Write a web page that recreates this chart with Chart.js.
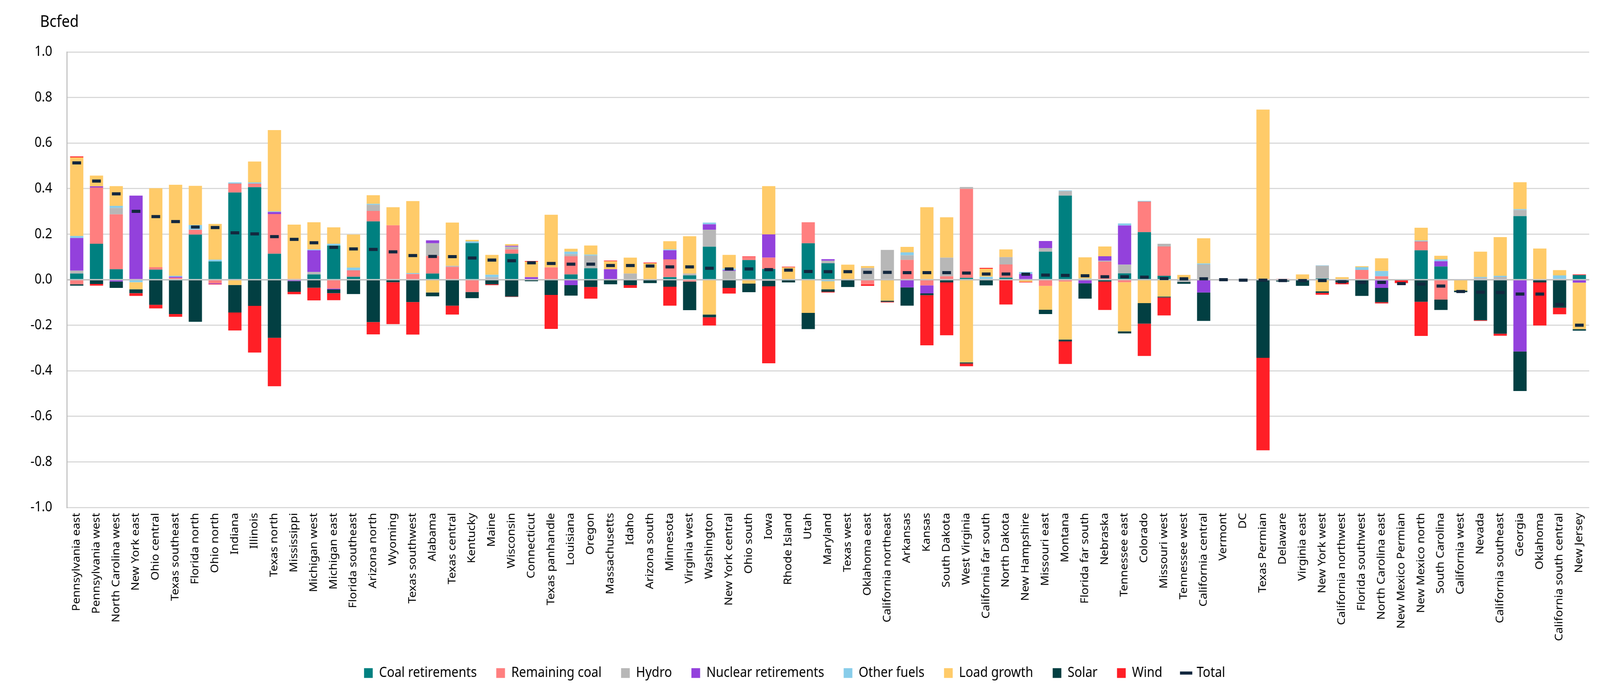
<!DOCTYPE html>
<html>
<head>
<meta charset="utf-8">
<script src="https://cdn.jsdelivr.net/npm/chart.js@4.4.1/dist/chart.umd.min.js"></script>
<style>
html, body { margin: 0; padding: 0; background: #fff; overflow: hidden; }
canvas { display: block; }
</style>
</head>
<body>
<canvas id="chart" width="4598" height="1792"></canvas>
<script>
const categories = [
  'Pennsylvania east', 'Pennsylvania west', 'North Carolina west', 'New York east', 'Ohio central',
  'Texas southeast', 'Florida north', 'Ohio north', 'Indiana', 'Illinois',
  'Texas north', 'Mississippi', 'Michigan west', 'Michigan east', 'Florida southeast',
  'Arizona north', 'Wyoming', 'Texas southwest', 'Alabama', 'Texas central',
  'Kentucky', 'Maine', 'Wisconsin', 'Connecticut', 'Texas panhandle',
  'Louisiana', 'Oregon', 'Massachusetts', 'Idaho', 'Arizona south',
  'Minnesota', 'Virginia west', 'Washington', 'New York central', 'Ohio south',
  'Iowa', 'Rhode Island', 'Utah', 'Maryland', 'Texas west',
  'Oklahoma east', 'California northeast', 'Arkansas', 'Kansas', 'South Dakota',
  'West Virginia', 'California far south', 'North Dakota', 'New Hampshire', 'Missouri east',
  'Montana', 'Florida far south', 'Nebraska', 'Tennessee east', 'Colorado',
  'Missouri west', 'Tennessee west', 'California central', 'Vermont', 'DC',
  'Texas Permian', 'Delaware', 'Virginia east', 'New York west', 'California northwest',
  'Florida southwest', 'North Carolina east', 'New Mexico Permian', 'New Mexico north', 'South Carolina',
  'California west', 'Nevada', 'California southeast', 'Georgia', 'Oklahoma',
  'California south central', 'New Jersey'
];

const coalRetirements = [
  0.027, 0.158, 0.046, 0, 0.044, 0, 0.198, 0.080, 0.383, 0.406,
  0.114, 0, 0.023, 0.150, 0.013, 0.256, 0, 0, 0.027, 0,
  0.161, 0, 0.114, 0, 0, 0.023, 0.050, 0, 0, 0,
  0.011, 0.019, 0.145, 0, 0.086, 0.047, 0, 0.160, 0.072, 0,
  0, 0, 0, 0, 0, 0.008, 0, 0.009, 0, 0.123,
  0.369, 0, 0, 0.028, 0.209, 0.017, 0, 0, 0, 0,
  0, 0, 0, 0.005, 0, 0, 0, 0, 0.129, 0.058,
  0, 0, 0, 0.279, 0, 0, 0.020
];
const remainingCoal = [
  -0.020, 0.247, 0.241, 0, 0.011, 0.008, 0.021, -0.016, 0.039, 0.016,
  0.174, 0.004, 0, -0.039, 0.028, 0.046, 0.239, 0.025, 0.077, 0.056,
  -0.054, 0, 0.019, 0, 0.054, 0.080, 0, 0, 0, 0,
  0.078, -0.008, 0, 0, 0.013, 0.050, 0, 0.092, 0, 0,
  -0.020, 0, 0.087, -0.025, 0.015, 0.391, 0, 0.058, 0, -0.027,
  -0.008, 0, 0.079, -0.011, 0.134, 0.129, 0, 0, -0.003, 0,
  0, 0.004, 0, 0, 0, 0.043, 0.015, 0, 0.039, -0.087,
  0, 0, 0, 0, 0, 0, 0
];
const hydro = [
  0.013, 0, 0.028, 0, 0, 0, 0, 0, 0, 0,
  0, 0, 0.011, 0, 0, 0.027, 0, 0, 0.056, 0.005,
  0, 0.011, 0.012, 0, 0, 0.009, 0.056, 0, 0.027, 0,
  0, 0.008, 0.074, 0.038, 0, -0.005, 0, 0, 0.011, 0,
  0.051, 0.131, 0.020, 0, 0.082, 0.008, 0, 0.032, 0, 0.016,
  0.020, 0, 0.004, 0.038, 0, 0.012, -0.010, 0.067, 0, -0.004,
  0, -0.004, 0, 0.056, 0, 0, 0, 0, 0, 0,
  0, 0.008, 0.012, 0.027, 0, 0.004, 0
];
const nuclearRetirements = [
  0.143, 0.005, -0.008, 0.369, 0, 0.005, 0, -0.003, 0, 0,
  0.009, -0.006, 0.095, -0.004, 0, 0, 0, 0, 0.013, 0,
  0, 0, 0.004, 0.011, 0, -0.024, 0, 0.046, 0, 0,
  0.040, 0, 0.024, 0.004, 0, 0.102, 0, 0, 0.007, 0,
  0, 0, -0.034, -0.035, 0, 0, 0, 0, 0.025, 0.031,
  0, -0.016, 0.020, 0.172, 0, 0, 0, -0.056, 0, 0,
  0, 0, 0, 0, 0, 0, -0.036, 0, 0, 0.023,
  0, 0, 0, -0.315, 0, 0, -0.013
];
const otherFuels = [
  0.009, 0, 0.009, -0.011, 0, 0.004, 0.021, 0.008, 0.005, 0.005,
  0.003, 0, 0.004, 0.008, 0.012, 0.004, 0, 0.004, 0, 0,
  0.007, 0.011, 0, 0, 0, 0.011, 0.004, 0, 0, 0,
  0.004, 0, 0.008, 0.007, 0, 0, 0, 0, -0.007, 0,
  0, 0, 0.013, 0, 0, 0, 0.013, 0, 0.009, 0,
  0.003, 0.005, 0, 0.009, 0.003, 0, 0, 0.004, 0, 0,
  0, 0, 0, 0.002, 0, 0.012, 0.023, 0, 0.004, 0.008,
  0, 0.004, 0.005, 0.004, 0, 0.015, 0
];
const loadGrowth = [
  0.345, 0.047, 0.087, -0.031, 0.347, 0.400, 0.172, 0.157, -0.023, 0.092,
  0.357, 0.238, 0.119, 0.072, 0.145, 0.038, 0.079, 0.316, -0.056, 0.190,
  0.007, 0.087, 0.007, 0.068, 0.231, 0.013, 0.040, 0.035, 0.070, 0.072,
  0.036, 0.164, -0.153, 0.060, -0.017, 0.212, 0.054, -0.146, -0.035, 0.066,
  0.009, -0.092, 0.024, 0.318, 0.177, -0.363, 0.035, 0.034, -0.009, -0.105,
  -0.255, 0.093, 0.043, -0.216, -0.103, -0.074, 0.021, 0.111, 0, 0,
  0.747, 0, 0.023, -0.051, 0.011, 0.004, 0.056, 0, 0.056, 0.016,
  -0.048, 0.111, 0.170, 0.118, 0.137, 0.023, -0.204
];
const solar = [
  -0.006, -0.019, -0.028, -0.017, -0.110, -0.151, -0.185, 0, -0.121, -0.115,
  -0.255, -0.047, -0.035, -0.016, -0.063, -0.186, -0.011, -0.098, -0.017, -0.114,
  -0.027, -0.020, -0.074, -0.007, -0.067, -0.046, -0.032, -0.020, -0.024, -0.015,
  -0.031, -0.126, -0.012, -0.036, -0.038, -0.024, -0.012, -0.071, -0.011, -0.032,
  0, -0.005, -0.080, -0.008, -0.012, -0.005, -0.025, 0, 0, -0.019,
  -0.008, -0.067, -0.008, -0.009, -0.090, -0.004, -0.008, -0.125, 0, 0,
  -0.343, -0.004, -0.027, -0.007, -0.012, -0.071, -0.063, -0.003, -0.097, -0.046,
  -0.007, -0.178, -0.237, -0.174, -0.012, -0.123, -0.007
];
const wind = [
  0.004, -0.007, 0, -0.012, -0.016, -0.012, 0, -0.002, -0.079, -0.205,
  -0.213, -0.011, -0.056, -0.031, 0, -0.054, -0.184, -0.143, 0, -0.039,
  0, -0.004, -0.002, 0.003, -0.149, 0, -0.051, 0.003, -0.012, 0.003,
  -0.083, 0, -0.036, -0.025, 0.003, -0.338, 0.003, 0, -0.003, 0,
  -0.007, -0.003, 0, -0.220, -0.232, -0.012, 0.004, -0.109, -0.003, 0,
  -0.099, 0, -0.125, 0, -0.142, -0.079, 0, 0, 0, 0,
  -0.406, 0, 0, -0.008, -0.008, 0, -0.005, -0.012, -0.150, 0,
  0, -0.003, -0.009, 0, -0.189, -0.029, 0.003
];
const total = [
  0.513, 0.433, 0.377, 0.300, 0.277, 0.255, 0.231, 0.229, 0.206, 0.201,
  0.189, 0.177, 0.162, 0.142, 0.135, 0.133, 0.122, 0.106, 0.102, 0.101,
  0.095, 0.086, 0.083, 0.074, 0.071, 0.068, 0.068, 0.062, 0.062, 0.060,
  0.056, 0.056, 0.050, 0.047, 0.047, 0.044, 0.042, 0.036, 0.035, 0.035,
  0.032, 0.032, 0.031, 0.031, 0.031, 0.029, 0.025, 0.025, 0.024, 0.020,
  0.019, 0.017, 0.013, 0.013, 0.011, 0.005, 0.004, 0.004, 0.000, -0.002,
  -0.002, -0.004, -0.004, -0.004, -0.009, -0.012, -0.012, -0.017, -0.019, -0.028,
  -0.052, -0.055, -0.056, -0.063, -0.063, -0.109, -0.200
];

const yTicks = { min: -1, max: 1, step: 0.2 };

Chart.defaults.font.family = '"Noto Sans", sans-serif';
Chart.defaults.color = '#000';

function barSet(label, data, color) {
  return {
    label: label,
    data: data,
    backgroundColor: color,
    borderWidth: 0,
    pointStyle: 'rect',
    stack: 'mix',
    categoryPercentage: 1.0,
    barPercentage: 0.67
  };
}

// unit text in the top left corner
const unitLabel = {
  id: 'unitLabel',
  afterDraw(chart) {
    const ctx = chart.ctx;
    ctx.save();
    ctx.font = '42px "Noto Sans"';
    ctx.fillStyle = '#000';
    ctx.textAlign = 'left';
    ctx.textBaseline = 'alphabetic';
    ctx.fillText('Bcfed', chart.chartArea.left - 77, 69);
    ctx.restore();
  }
};

// zero axis line over the bars, under the total dashes
const zeroLine = {
  id: 'zeroLine',
  afterDatasetDraw(chart, args) {
    if (args.index !== 0) return;
    const ctx = chart.ctx;
    const y = chart.scales.y.getPixelForValue(0);
    ctx.save();
    ctx.strokeStyle = '#bfbfbf';
    ctx.lineWidth = 3;
    ctx.beginPath();
    ctx.moveTo(chart.chartArea.left, y);
    ctx.lineTo(chart.chartArea.right, y);
    ctx.stroke();
    ctx.restore();
  }
};

const canvas = document.getElementById('chart');

const myChart = new Chart(canvas, {
  type: 'bar',
  data: {
    labels: categories,
    datasets: [
      barSet('Coal retirements', coalRetirements, '#008080'),
      barSet('Remaining coal', remainingCoal, '#ff7f7f'),
      barSet('Hydro', hydro, '#b7b7b7'),
      barSet('Nuclear retirements', nuclearRetirements, '#9341dc'),
      barSet('Other fuels', otherFuels, '#88cdea'),
      barSet('Load growth', loadGrowth, '#ffcb69'),
      barSet('Solar', solar, '#023f42'),
      barSet('Wind', wind, '#ff1f26'),
      {
        type: 'line',
        label: 'Total',
        data: total,
        stack: 'total',
        order: -1,
        showLine: false,
        pointStyle: 'line',
        pointRadius: 12.5,
        pointHoverRadius: 12.5,
        pointBorderWidth: 8,
        pointBorderColor: '#13283f',
        pointBackgroundColor: '#13283f',
        borderColor: '#13283f',
        backgroundColor: '#13283f'
      }
    ]
  },
  options: {
    responsive: false,
    devicePixelRatio: 1,
    animation: false,
    layout: {
      padding: { left: 0, right: 31, top: 133, bottom: 41 }
    },
    scales: {
      x: {
        stacked: true,
        grid: { display: false, drawTicks: false },
        border: { display: false },
        ticks: {
          autoSkip: false,
          minRotation: 90,
          maxRotation: 90,
          padding: 14,
          font: { size: 30 },
          color: '#000'
        },
        afterFit(scale) { scale.height = 350; }
      },
      y: {
        stacked: true,
        min: yTicks.min,
        max: yTicks.max,
        ticks: {
          stepSize: yTicks.step,
          padding: 42,
          font: { size: 36 },
          color: '#000',
          callback: (v) => (Math.abs(v) < 1e-9 ? 0 : v).toFixed(1)
        },
        grid: {
          drawTicks: false,
          lineWidth: 3,
          color: (c) => (c.tick && Math.abs(c.tick.value) < 1e-9 ? '#bfbfbf' : '#d9d9d9')
        },
        border: { display: true, color: '#bfbfbf', width: 3 },
        afterFit(scale) { scale.width = 192; }
      }
    },
    plugins: {
      legend: {
        position: 'bottom',
        labels: {
          usePointStyle: true,
          boxWidth: 25,
          boxHeight: 25,
          padding: 56,
          font: { size: 36 },
          color: '#000',
          sort: (a, b) => a.datasetIndex - b.datasetIndex
        }
      },
      tooltip: { enabled: false }
    }
  },
  plugins: [unitLabel, zeroLine]
});

// the chart is laid out in the 4598x1792 reference frame; show it over the whole viewport
canvas.style.width = window.innerWidth + 'px';
canvas.style.height = window.innerHeight + 'px';
</script>
</body>
</html>
